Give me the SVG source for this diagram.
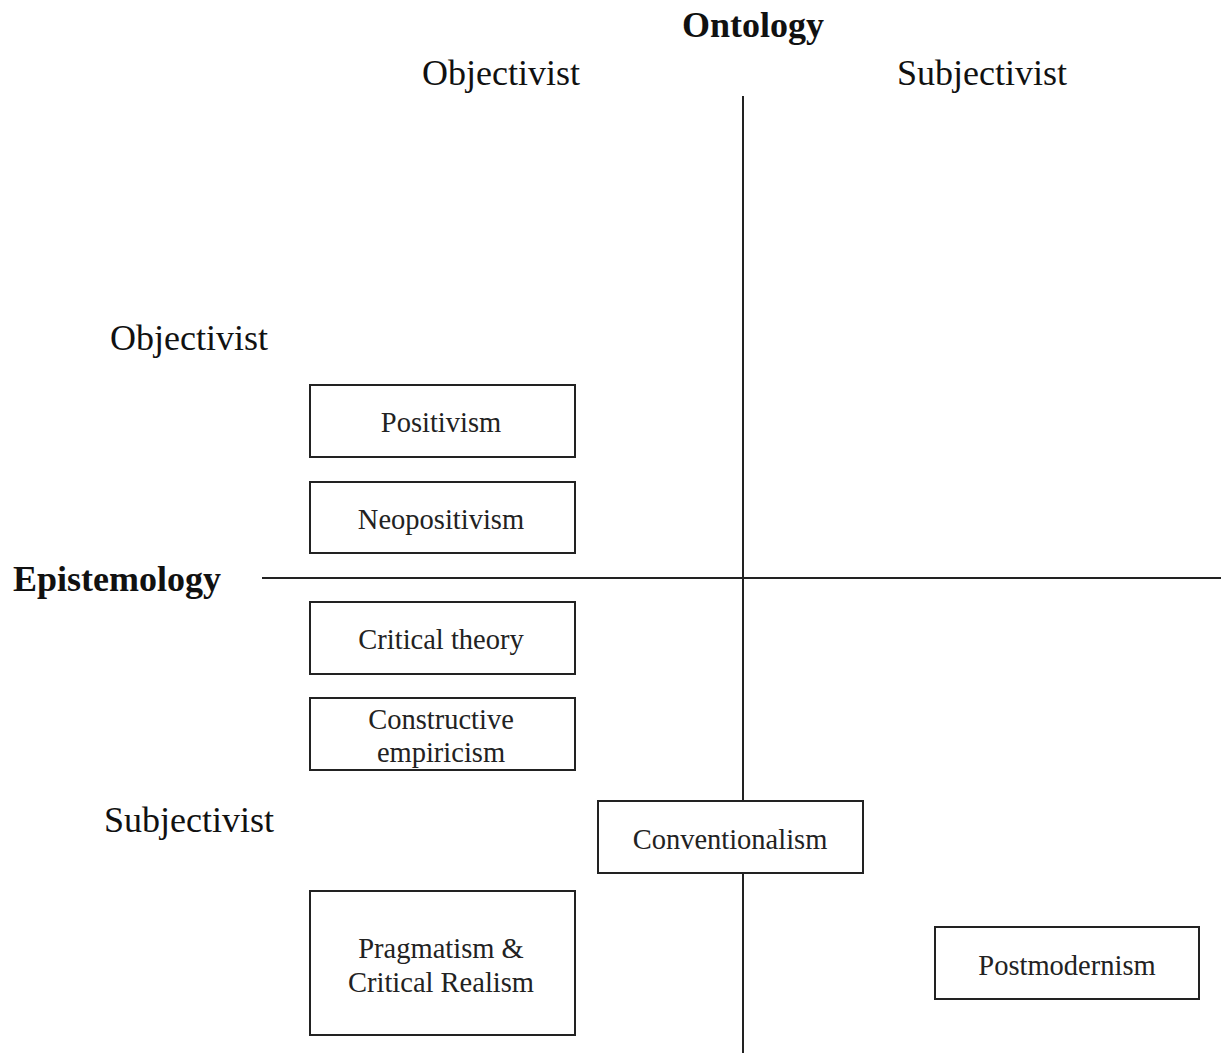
<svg xmlns="http://www.w3.org/2000/svg" width="1221" height="1053" viewBox="0 0 1221 1053">
<style>
.box{fill:#fff;stroke:#222;stroke-width:2}
.ax{stroke:#222;stroke-width:2;fill:none}
.t{font-family:"Liberation Serif",serif;font-size:28.5px;fill:#222;text-anchor:middle}
.lab{font-family:"Liberation Serif",serif;font-size:36px;fill:#111;text-anchor:middle}
.b{font-family:"Liberation Serif",serif;font-size:36px;font-weight:bold;fill:#111}
</style>
<rect width="1221" height="1053" fill="#fff"/>
<g id="connectors">
<line class="ax" x1="743" y1="96" x2="743" y2="1053"/>
<line class="ax" x1="262" y1="578" x2="1221" y2="578"/>
</g>
<g id="labels">
<text class="b" x="753" y="37" text-anchor="middle">Ontology</text>
<text class="b" x="13" y="591">Epistemology</text>
<text class="lab" x="501" y="85">Objectivist</text>
<text class="lab" x="982" y="85">Subjectivist</text>
<text class="lab" x="189" y="350">Objectivist</text>
<text class="lab" x="189" y="832">Subjectivist</text>
</g>
<g id="positivism"><rect class="box" x="310" y="385" width="265" height="72"/><text class="t" x="441" y="432">Positivism</text></g>
<g id="neopositivism"><rect class="box" x="310" y="482" width="265" height="71"/><text class="t" x="441" y="529">Neopositivism</text></g>
<g id="critical-theory"><rect class="box" x="310" y="602" width="265" height="72"/><text class="t" x="441" y="649">Critical theory</text></g>
<g id="constructive-empiricism"><rect class="box" x="310" y="698" width="265" height="72"/><text class="t" x="441" y="729">Constructive</text><text class="t" x="441" y="762">empiricism</text></g>
<g id="conventionalism"><rect class="box" x="598" y="801" width="265" height="72"/><text class="t" x="730" y="849">Conventionalism</text></g>
<g id="pragmatism"><rect class="box" x="310" y="891" width="265" height="144"/><text class="t" x="441" y="958">Pragmatism &amp;</text><text class="t" x="441" y="992">Critical Realism</text></g>
<g id="postmodernism"><rect class="box" x="935" y="927" width="264" height="72"/><text class="t" x="1067" y="975">Postmodernism</text></g>
</svg>
